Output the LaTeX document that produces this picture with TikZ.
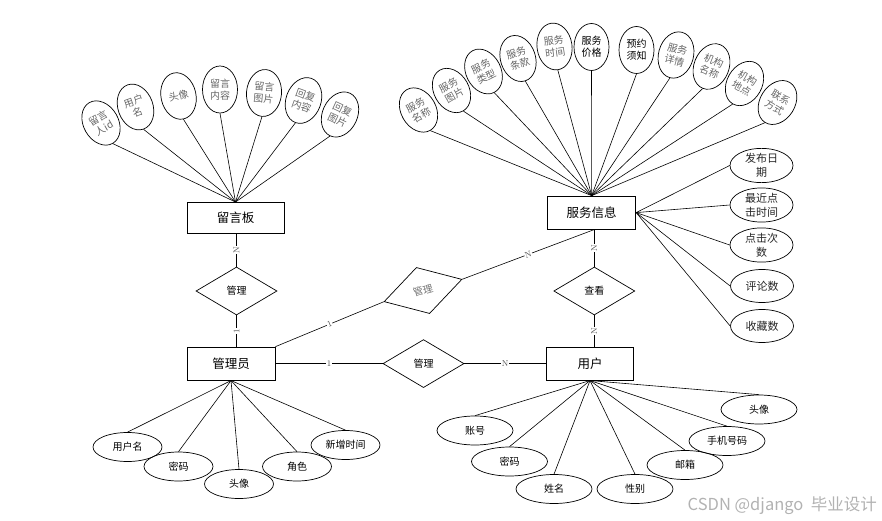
\documentclass[tikz,border=0pt]{standalone}
\usepackage{fontspec}
\newfontfamily\cjk{Noto Sans CJK SC}
\usetikzlibrary{shapes.geometric}
\begin{document}
\begin{tikzpicture}[x=1pt,y=-1pt,
  ent/.style={draw, line width=0.9pt, inner sep=0pt, font=\cjk\fontsize{12.5}{14}\selectfont},
  rel/.style={draw, diamond, line width=0.7pt, minimum width=81pt, minimum height=48pt, inner sep=0pt, font=\cjk\fontsize{10}{11}\selectfont},
  attv/.style={draw, ellipse, line width=0.7pt, minimum width=35pt, minimum height=47pt, inner sep=0pt, align=center, font=\cjk\fontsize{10}{12}\selectfont, text=black!60},
  attr/.style={draw, ellipse, line width=0.7pt, minimum width=63pt, minimum height=33pt, inner sep=0pt, align=center, font=\cjk\fontsize{11}{14}\selectfont, text=black!85},
  atth/.style={draw, ellipse, line width=0.7pt, minimum width=69pt, minimum height=29pt, inner sep=0pt, font=\cjk\fontsize{10}{12}\selectfont},
  atthw/.style={atth, minimum width=76pt},
  lbl/.style={fill=white, inner sep=0.6pt, font=\fontsize{8.5}{9}\selectfont, text=black!70},
  conn/.style={line width=0.6pt}
]
\useasboundingbox (0,0) rectangle (882,521);

% entities
\node[ent, minimum width=97pt, minimum height=31pt] (lyb) at (235.5,218) {留言板};
\node[ent, minimum width=88pt, minimum height=33pt] (fw) at (591.7,212.6) {服务信息};
\node[ent, minimum width=88pt, minimum height=33pt] (gly) at (231,363.6) {管理员};
\node[ent, minimum width=87pt, minimum height=33pt] (yh) at (590,363.6) {用户};

% relationships
\node[rel] (gl1) at (236.5,291) {管理};
\node[rel] (ck) at (594.3,291) {查看};
\node[rel] (gl3) at (423.5,363.6) {管理};
\node[rel, rotate=16, text=black!55] (gl2) at (423,290.5) {管理};

% relationship lines
\draw[conn] (gl1.north) -- (gl1.north |- lyb.south) node[lbl, midway, rotate=90] {N};
\draw[conn] (gl1.south) -- (gl1.south |- gly.north) node[lbl, midway, rotate=90] {1};
\draw[conn] (ck.north) -- (ck.north |- fw.south) node[lbl, midway, rotate=90] {N};
\draw[conn] (ck.south) -- (ck.south |- yh.north) node[lbl, midway, rotate=90] {N};
\draw[conn] (gly.east) -- (gl3.west) node[lbl, midway] {1};
\draw[conn] (gl3.east) -- (yh.west) node[lbl, midway] {N};
\draw[conn] (gly.north east) -- (gl2.west) node[lbl, midway, sloped] {1};
\draw[conn] (gl2.east) -- (ck.north |- fw.south) node[lbl, midway, sloped] {N};

% 留言板 attributes
\node[attv, rotate=30] (m1) at (101,123) {留言\\人id};
\node[attv, rotate=20] (m2) at (135.5,107) {用户\\名};
\node[attv, rotate=12] (m3) at (178.5,96) {头像};
\node[attv, rotate=0] (m4) at (220,89.5) {留言\\内容};
\node[attv, rotate=-5] (m5) at (264,93) {留言\\图片};
\node[attv, rotate=-20] (m6) at (303.5,100.5) {回复\\内容};
\node[attv, rotate=-25] (m7) at (340,114.5) {回复\\图片};
\foreach \m in {m1,m2,m3,m4,m5,m6,m7} \draw[conn] (lyb.north) -- (\m.south);

% 服务信息 top attributes
\node[attv, rotate=30] (s1) at (418.5,110) {服务\\名称};
\node[attv, rotate=30] (s2) at (451.5,90.5) {服务\\图片};
\node[attv, rotate=27] (s3) at (483.5,71.5) {服务\\类型};
\node[attv, rotate=18] (s4) at (518,58.5) {服务\\条款};
\node[attv, rotate=8] (s5) at (554.5,46.5) {服务\\时间};
\node[attv, text=black] (s6) at (591.5,47) {服务\\价格};
\node[attv, text=black] (s7) at (636.5,50) {预约\\须知};
\node[attv, rotate=-15] (s8) at (676,55) {服务\\详情};
\node[attv, rotate=-22] (s9) at (711.5,66.5) {机构\\名称};
\node[attv, rotate=-30] (s10) at (744.5,83.5) {机构\\地点};
\node[attv, rotate=-32] (s11) at (777.5,102.5) {联系\\方式};
\foreach \s in {s1,s2,s3,s4,s5,s6,s7,s8,s9,s10,s11} \draw[conn] (fw.north) -- (\s.south);

% 服务信息 right attributes
\node[attr] (r1) at (761.5,165.5) {发布日\\期};
\node[attr] (r2) at (761.5,205) {最近点\\击时间};
\node[attr] (r3) at (761.5,245) {点击次\\数};
\node[attr] (r4) at (762,286) {评论数};
\node[attr] (r5) at (762,326) {收藏数};
\foreach \r in {r1,r2,r3,r4,r5} \draw[conn] (fw.east) -- (\r.west);

% 管理员 attributes
\node[atth] (a1) at (127.5,447) {用户名};
\node[atth] (a2) at (178.5,466.5) {密码};
\node[atth] (a3) at (239,484) {头像};
\node[atth] (a4) at (297,466.5) {角色};
\node[atth] (a5) at (345.5,445) {新增时间};
\foreach \a in {a1,a2,a3,a4,a5} \draw[conn] (gly.south) -- (\a.north);

% 用户 attributes
\node[atthw] (u1) at (475,430.5) {账号};
\node[atthw] (u2) at (509.5,461.5) {密码};
\node[atthw] (u3) at (554,489) {姓名};
\node[atthw] (u4) at (635,489) {性别};
\node[atthw] (u5) at (685,465) {邮箱};
\node[atthw] (u6) at (727,441) {手机号码};
\node[atthw] (u7) at (759,409.5) {头像};
\foreach \u in {u1,u2,u3,u4,u5,u6,u7} \draw[conn] (yh.south) -- (\u.north);

% watermark
\node[anchor=east, inner sep=0pt, text=black!30, font=\cjk\fontsize{16.5}{18}\selectfont] (wm) at (877,506) {CSDN @django\ \ 毕业设计};
\end{tikzpicture}
\end{document}
